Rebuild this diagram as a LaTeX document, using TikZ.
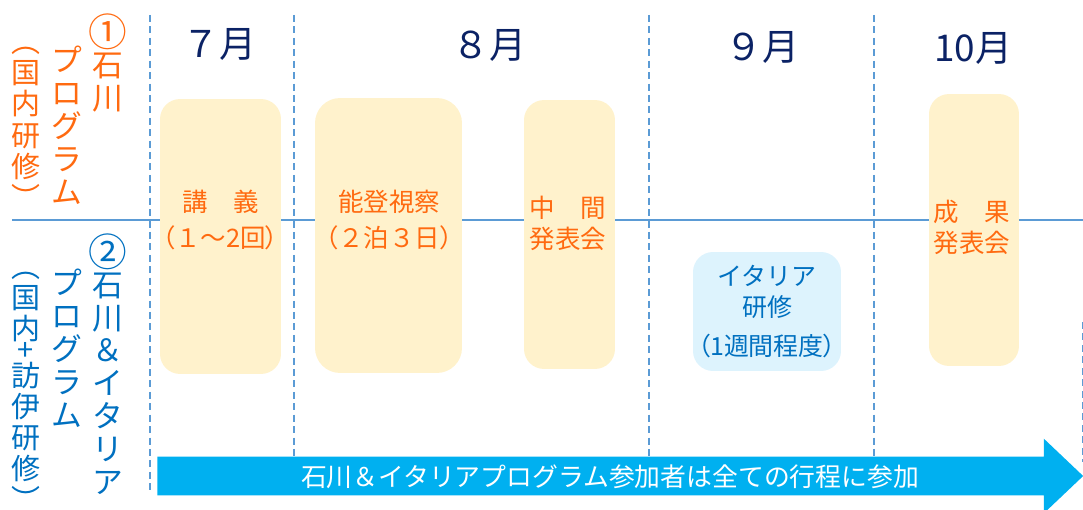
\documentclass[tikz,border=0pt]{standalone}
\usepackage{fontspec}
\setmainfont{Noto Sans CJK JP}
\newfontfamily\paltfont[RawFeature=+palt]{Noto Sans CJK JP}
\usetikzlibrary{shapes.arrows}
\definecolor{orng}{HTML}{FF6A10}
\definecolor{blu}{HTML}{0070C0}
\definecolor{navy}{HTML}{0B2265}
\definecolor{cream}{HTML}{FFF2CC}
\definecolor{sky}{HTML}{DDF3FD}
\definecolor{arrblue}{HTML}{00B0F0}
\definecolor{lineblue}{HTML}{5B9BD5}
\newcommand{\hlp}{{\paltfont （}}
\newcommand{\hrp}{{\paltfont ）}}
\newcommand{\bignum}[1]{{\fontsize{22}{18.7}\selectfont #1}}

\begin{document}
\begin{tikzpicture}[x=0.02cm,y=-0.02cm,
  gline/.style={lineblue,line width=1pt,dash pattern=on 4pt off 2.5pt},
  mon/.style={text=navy,font=\fontsize{21}{21}\selectfont},
  ybox/.style={fill=cream,rounded corners=0.4cm,inner sep=0pt},
  otxt/.style={text=orng,align=center,font=\fontsize{14.5}{20.4}\selectfont},
  ocol/.style={text=orng,align=center,inner sep=0pt,anchor=north},
  bcol/.style={text=blu,align=center,inner sep=0pt,anchor=north},
  colbig/.style={font=\fontsize{17.5}{18.7}\selectfont},
  colsmall/.style={font=\fontsize{16.5}{17.7}\selectfont}]
\useasboundingbox (0,0) rectangle (1083,510);
\draw[gline] (150,15) -- (150,490);
\foreach \x in {294,649,874} \draw[gline] (\x,15) -- (\x,457);
\draw[gline] (1083,322) -- (1083,462);
\draw[lineblue,line width=0.9pt] (12,220) -- (1083,220);

\node[mon] (jul) at (219,44) {７月};
\node[mon] (aug) at (489,45) {８月};
\node[mon] (sep) at (762,47) {９月};
\node[mon] (oct) at (973,48) {10月};

\node[ybox,minimum width=2.42cm,minimum height=5.5cm] (kogi) at (220.5,236.5) {};
\node[ybox,rounded corners=0.5cm,minimum width=2.94cm,minimum height=5.5cm] (noto) at (388.5,235.5) {};
\node[ybox,minimum width=1.82cm,minimum height=5.38cm] (chukan) at (569.5,234.5) {};
\node[ybox,minimum width=1.8cm,minimum height=5.44cm] (seika) at (974,230) {};
\node[ybox,fill=sky,minimum width=2.96cm,minimum height=2.38cm,text=blu,align=center,
  font=\fontsize{14.2}{18}\selectfont] (italia) at (767,311.5) {イタリア\\研修\\[4pt]\hlp 1週間程度\hrp};

\node[otxt] (kogit) at (220.5,220) {講　義\\\hlp １～2回\hrp};
\node[otxt] (notot) at (389,220) {能登視察\\\hlp ２泊３日\hrp};
\node[otxt,font=\fontsize{14.5}{17.6}\selectfont] (chukant) at (568,223.5) {中　間\\発表会};
\node[otxt,font=\fontsize{14.5}{17.6}\selectfont] (seikat) at (972,227.5) {成　果\\発表会};

\node[ocol,colbig] (o1) at (108,13) {\bignum{①}\\[-1.5pt]石\\川};
\node[ocol,colbig] (o2) at (67,46) {プ\\ロ\\グ\\ラ\\ム};
\node[ocol,colsmall] (o3) at (26,47) {︵\\国\\内\\研\\修\\︶};
\node[bcol,colbig] (b1) at (108,233) {\bignum{②}\\[-1.5pt]石\\川\\＆\\イ\\タ\\リ\\ア};
\node[bcol,colbig] (b2) at (67,269) {プ\\ロ\\グ\\ラ\\ム};
\node[bcol,colsmall] (b3) at (26,272) {︵\\国\\内\\[-6pt]+\\[-3pt]訪\\伊\\研\\修\\︶};

\node[single arrow,fill=arrblue,text=white,inner xsep=0pt,inner ysep=0pt,
  text height=0.58cm,text depth=0.18cm,minimum height=18.52cm,
  single arrow head extend=0.36cm,single arrow tip angle=87,anchor=tail,
  font=\fontsize{14.7}{14.7}\selectfont] (flow) at (157,476)
  {石川＆イタリアプログラム参加者は全ての行程に参加};
\end{tikzpicture}
\end{document}
